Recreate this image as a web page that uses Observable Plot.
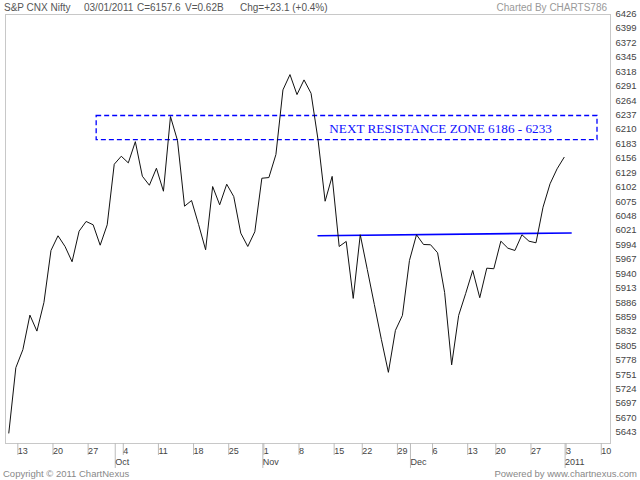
<!DOCTYPE html>
<html><head><meta charset="utf-8">
<script src="https://cdn.jsdelivr.net/npm/d3@7"></script>
<script src="https://cdn.jsdelivr.net/npm/@observablehq/plot@0.6"></script>
<style>
body{margin:0;background:#fff;font-family:"Liberation Sans",Arial,sans-serif;}
#wrap{position:relative;width:640px;height:480px;overflow:hidden;}
#chart{position:absolute;left:0;top:0;}
.t{position:absolute;font-size:10px;white-space:nowrap;line-height:12px;}
.h{top:2px;color:#555;}
.f{top:468px;color:#888;font-size:9.5px;}
</style>
</head><body>
<div id="wrap">
  <div id="chart"></div>
  <div class="t h" style="left:4px">S&amp;P CNX Nifty</div>
  <div class="t h" style="left:84px">03/01/2011</div>
  <div class="t h" style="left:137px">C=6157.6</div>
  <div class="t h" style="left:185px">V=0.62B</div>
  <div class="t h" style="left:240px">Chg=+23.1 (+0.4%)</div>
  <div class="t h" style="right:33px;color:#999">Charted By CHARTS786</div>
  <div class="t f" style="left:3px">Copyright © 2011 ChartNexus</div>
  <div class="t f" style="right:3px">Powered by www.chartnexus.com</div>
</div>
<script>
// trading-day index (1 = first bar) and closing values
const closes = [
  5641.6, 5763.9, 5797.6, 5862.3, 5832.4, 5886.1, 5983.3, 6010.8, 5990.8, 5962.2,
  6019.4, 6037.6, 6031.4, 5993.2, 6031.4, 6144.7, 6159.7, 6147.3, 6187.0, 6122.3,
  6105.4, 6137.2, 6094.2, 6234.0, 6189.0, 6066.2, 6076.8, 6031.9, 5984.6, 6103.0,
  6068.8, 6107.3, 6084.3, 6015.7, 5990.8, 6018.3, 6118.5, 6119.8, 6162.9, 6283.9,
  6312.5, 6275.1, 6302.6, 6277.5, 6190.0, 6075.5, 6122.0, 5990.8, 6000.2, 5893.6,
  6012.7, 5947.8, 5882.3, 5816.9, 5755.2, 5833.7, 5861.8, 5964.6, 6012.7, 5994.5,
  5994.0, 5979.0, 5904.8, 5769.2, 5861.8, 5902.9, 5945.9, 5894.9, 5950.2, 5949.1,
  6000.7, 5987.6, 5983.3, 6012.7, 6000.7, 5997.7, 6064.3, 6108.1, 6136.1, 6157.6
];
const dayIdx = closes.map((_, i) => i + 1);

// weekly tick labels (trading-day index of each Monday)
const weekTickIdx = [2, 7, 12, 17, 22, 27, 32, 37, 42, 47, 51, 56, 61, 66, 70, 75, 80, 85];
const weekTickLabels = ["13","20","27","4","11","18","25","1","8","15","22","29","6","13","20","27","3","10"];
// month separators
const monthTickIdx = [16, 37, 58, 80];
const monthTickLabels = ["Oct", "Nov", "Dec", "2011"];
// price ticks
const yTicks = [5643,5670,5697,5724,5751,5778,5805,5832,5859,5886,5913,5940,5967,5994,6021,
                6048,6075,6102,6129,6156,6183,6210,6237,6264,6291,6318,6345,6372,6399,6426];

// annotations
const zoneX = [13.5, 84.75];
const zoneY = [6190, 6235];
const zoneLabel = "NEXT RESISTANCE ZONE 6186 - 6233";
const zoneLabelX = 46.6;
const zoneLabelY = 6211;
const neckX = [45, 81];
const neckY = [6011, 6016];

const series = dayIdx.map((d, i) => ({d, v: closes[i]}));
const neck = neckX.map((d, i) => ({d, v: neckY[i]}));
const weekMap = new Map(weekTickIdx.map((d, i) => [d, weekTickLabels[i]]));
const monthMap = new Map(monthTickIdx.map((d, i) => [d, monthTickLabels[i]]));

const chart = Plot.plot({
  width: 640,
  height: 480,
  marginTop: 14,
  marginBottom: 37,
  marginLeft: 5,
  marginRight: 30,
  style: {fontFamily: "'Liberation Sans', Arial, sans-serif", background: "#fff"},
  x: {domain: [0.53, 86.6], axis: null},
  y: {domain: [5622, 6425], axis: null},
  marks: [
    Plot.frame({stroke: "#c8c8c8"}),
    Plot.axisY(yTicks, {anchor: "right", label: null, tickSize: 0, tickPadding: 5, fontSize: 9.5, fill: "#444", tickFormat: d => String(d)}),
    Plot.axisX(weekTickIdx, {anchor: "bottom", label: null, tickSize: 12, tickPadding: -8, textAnchor: "start", dx: 2,
      fontSize: 9, stroke: "#bbb", fill: "#444", tickFormat: d => weekMap.get(d)}),
    Plot.axisX(monthTickIdx, {anchor: "bottom", label: null, tickSize: 25, tickPadding: -10, textAnchor: "start", dx: 1,
      fontSize: 9, stroke: "#bbb", fill: "#444", tickFormat: d => monthMap.get(d)}),
    Plot.rect([0], {x1: () => zoneX[0], x2: () => zoneX[1], y1: () => zoneY[0], y2: () => zoneY[1],
      fill: "none", stroke: "#0000ff", strokeWidth: 1.3, strokeDasharray: "5,3"}),
    Plot.text([zoneLabel], {x: () => zoneLabelX, y: () => zoneLabelY, text: d => d, textAnchor: "start",
      fill: "#1010ff", fontSize: 13.2, fontFamily: "'Liberation Serif', 'DejaVu Serif', serif"}),
    Plot.line(neck, {x: "d", y: "v", stroke: "#0000ff", strokeWidth: 1.6}),
    Plot.line(series, {x: "d", y: "v", stroke: "#111", strokeWidth: 1})
  ]
});
document.getElementById("chart").appendChild(chart);
</script>
</body></html>
